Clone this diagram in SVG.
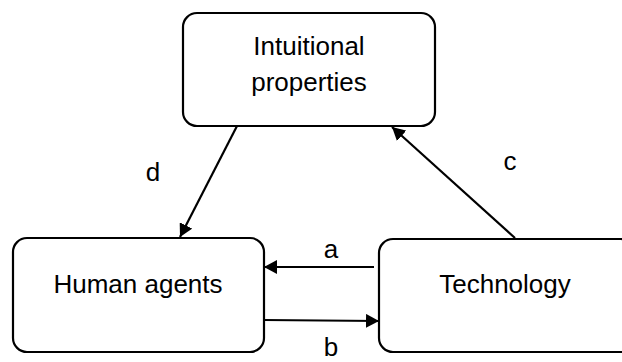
<svg xmlns="http://www.w3.org/2000/svg" width="622" height="362" viewBox="0 0 622 362">
<style>
.box{fill:#fff;stroke:#000;stroke-width:2.2}
.t{font-family:"Liberation Sans",Arial,sans-serif;font-size:26px;fill:#000;text-anchor:middle}
.c{stroke:#000;stroke-width:2.2;fill:none;marker-end:url(#ah)}
</style>
<defs>
<marker id="ah" markerUnits="userSpaceOnUse" markerWidth="14" markerHeight="14" refX="13" refY="7" orient="auto">
<path d="M0,0 L13,7 L0,14 z" fill="#000"/>
</marker>
</defs>
<rect width="622" height="362" fill="#fff"/>
<g id="intuitional">
<rect class="box" x="183" y="13" width="252" height="113" rx="14"/>
<text class="t" x="309" y="55">Intuitional</text>
<text class="t" x="309" y="91">properties</text>
</g>
<g id="human">
<rect class="box" x="13" y="238" width="251" height="114" rx="14"/>
<text class="t" x="138" y="293">Human agents</text>
</g>
<g id="technology">
<rect class="box" x="379" y="239" width="256" height="113" rx="14"/>
<text class="t" x="505" y="293">Technology</text>
</g>
<g id="connectors">
<line class="c" x1="237" y1="126" x2="180" y2="237"/>
<line class="c" x1="515" y1="238" x2="392" y2="127"/>
<line class="c" x1="374" y1="267" x2="264" y2="267"/>
<line class="c" x1="264" y1="320" x2="379" y2="321"/>
<text class="t" x="153" y="181">d</text>
<text class="t" x="510" y="170">c</text>
<text class="t" x="331" y="258">a</text>
<text class="t" x="331" y="356">b</text>
</g>
</svg>
